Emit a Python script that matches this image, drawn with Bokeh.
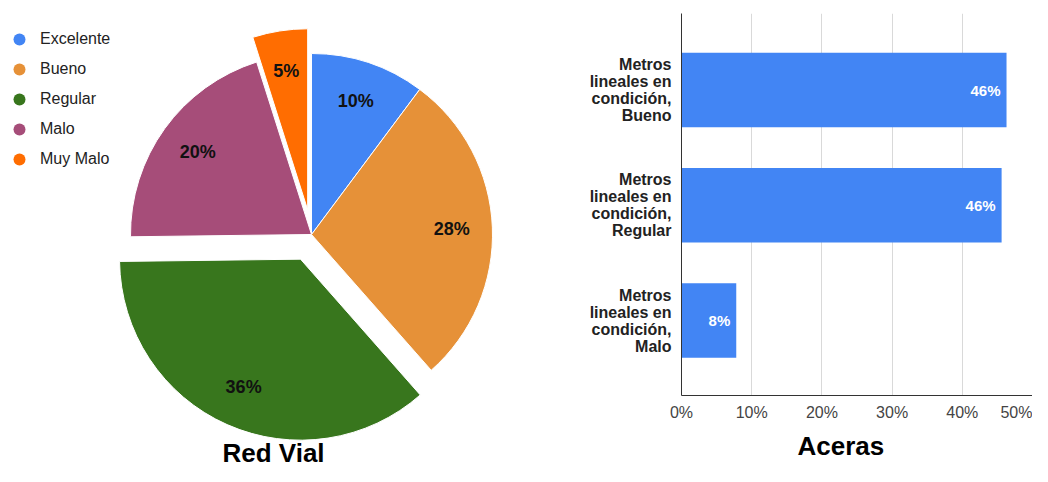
import math
from bokeh.plotting import figure
from bokeh.layouts import row
from bokeh.models import (ColumnDataSource, Range1d, Legend, LegendItem, Title,
                          FixedTicker, PrintfTickFormatter)
from bokeh.core.properties import value
from bokeh.embed import file_html
from bokeh.resources import INLINE

# ---------------- data ----------------
pie_title = "Red Vial"
pie_categories = ["Excelente", "Bueno", "Regular", "Malo", "Muy Malo"]
pie_values = [10.2, 28.3, 36.3, 20.3, 4.9]

bar_title = "Aceras"
bar_categories = [
    "Metros\nlineales en\ncondición,\nBueno",
    "Metros\nlineales en\ncondición,\nRegular",
    "Metros\nlineales en\ncondición,\nMalo",
]
bar_values = [46.3, 45.6, 7.8]
x_ticks = [0, 10, 20, 30, 40, 50]

# ---------------- styles ----------------
pie_colors = ["#4285F4", "#E69138", "#38761D", "#A64D79", "#FF6D01"]
pie_explode = [0, 0, 27, 0, 25]
FONT_NAME = "Liberation Sans"
FONT = value(FONT_NAME)
BAR_COLOR = "#4285F4"

# ---------------- pie figure ----------------
PW, PH = 560, 466
pie = figure(width=PW, height=PH, x_range=Range1d(0, PW), y_range=Range1d(0, PH),
             output_backend="svg", toolbar_location=None, frame_align=False,
             min_border=0, min_border_left=0, min_border_right=0,
             min_border_top=0, min_border_bottom=0)
pie.axis.visible = False
pie.grid.visible = False
pie.outline_line_color = None

CX, CY, R = 311, 232, 181
total = sum(pie_values)
starts, ends, cxs, cys, lxs, lys, labels = [], [], [], [], [], [], []
cum = 0.0
for v, off in zip(pie_values, pie_explode):
    a0 = math.pi / 2 - 2 * math.pi * cum / total
    a1 = math.pi / 2 - 2 * math.pi * (cum + v) / total
    mid = (a0 + a1) / 2
    cx = CX + off * math.cos(mid)
    cy = CY + off * math.sin(mid)
    starts.append(a0)
    ends.append(a1)
    cxs.append(cx)
    cys.append(cy)
    lxs.append(cx + 0.775 * R * math.cos(mid))
    lys.append(cy + 0.775 * R * math.sin(mid))
    labels.append(f"{round(v)}%")
    cum += v

src = ColumnDataSource(dict(cx=cxs, cy=cys, start=starts, end=ends, color=pie_colors,
                            lx=lxs, ly=lys, label=labels, name=pie_categories))
pie.wedge(x="cx", y="cy", radius=R, start_angle="start", end_angle="end",
          direction="clock", fill_color="color", line_color="white", line_width=1,
          source=src)
pie.text(x="lx", y="ly", text="label", source=src, text_align="center",
         text_baseline="middle", text_font=FONT, text_font_style="bold",
         text_font_size="18px", text_color="#111111")

# legend proxy: zero-size markers at the slice centres (only the legend shows them)
proxy = pie.scatter(x="cx", y="cy", source=src, marker="circle", size=0,
                    fill_color="color", line_color=None)
items = [LegendItem(label=name, renderers=[proxy], index=i)
         for i, name in enumerate(pie_categories)]
legend = Legend(items=items, location=(4, 292), padding=0, margin=0, spacing=0,
                glyph_width=30, glyph_height=30, label_height=30, label_standoff=6,
                border_line_color=None, background_fill_alpha=0,
                label_text_font=FONT_NAME, label_text_font_size="16px",
                label_text_color="#222222")
pie.add_layout(legend)

pie.text(x=[273], y=[14], text=[pie_title], text_align="center",
         text_baseline="middle", text_font=FONT, text_font_style="bold",
         text_font_size="26px", text_color="#000000")

# ---------------- bar figure ----------------
BW, BH = 472, 466
n = len(bar_categories)
bar_y = [n - i for i in range(n)]
bar = figure(width=BW, height=BH, x_range=Range1d(0, 50), y_range=Range1d(0.3493, 3.6638),
             output_backend="svg", toolbar_location=None, frame_align=False,
             min_border_left=121, min_border_right=0, min_border_top=13,
             min_border_bottom=71)
bar.outline_line_color = None
bar.hbar(y=bar_y, left=0, right=bar_values, height=0.645, fill_color=BAR_COLOR,
         line_color=None)
bar.text(x=bar_values, y=bar_y, text=[f"{round(v)}%" for v in bar_values],
         x_offset=-6, text_align="right", text_baseline="middle", text_font=FONT,
         text_font_style="bold", text_font_size="15px", text_color="white")

bar.yaxis.ticker = FixedTicker(ticks=bar_y)
bar.yaxis.major_label_overrides = dict(zip(bar_y, bar_categories))
bar.yaxis.major_tick_line_color = None
bar.yaxis.minor_tick_line_color = None
bar.yaxis.major_tick_out = 0
bar.yaxis.major_label_standoff = 10
bar.yaxis.axis_line_color = "#333333"
bar.yaxis.major_label_text_font = FONT_NAME
bar.yaxis.major_label_text_font_style = "bold"
bar.yaxis.major_label_text_font_size = "16px"
bar.yaxis.major_label_text_color = "#222222"
bar.yaxis.major_label_text_line_height = 1.0
bar.ygrid.visible = False

bar.xaxis.ticker = FixedTicker(ticks=x_ticks)
bar.xaxis.formatter = PrintfTickFormatter(format="%d%%")
bar.xaxis.major_tick_line_color = None
bar.xaxis.minor_tick_line_color = None
bar.xaxis.major_tick_out = 0
bar.xaxis.major_label_standoff = 8
bar.xaxis.axis_line_color = "#333333"
bar.xaxis.major_label_text_font = FONT_NAME
bar.xaxis.major_label_text_font_size = "16px"
bar.xaxis.major_label_text_color = "#444444"
bar.xgrid.ticker = FixedTicker(ticks=x_ticks)
bar.xgrid.grid_line_color = "#d9d9d9"

bar.add_layout(Title(text=bar_title, align="left", offset=116, standoff=10,
                     text_font=FONT_NAME, text_font_style="bold",
                     text_font_size="26px", text_color="#000000"), "below")

layout = row(pie, bar)
open("out.html", "w").write(file_html(layout, INLINE))
